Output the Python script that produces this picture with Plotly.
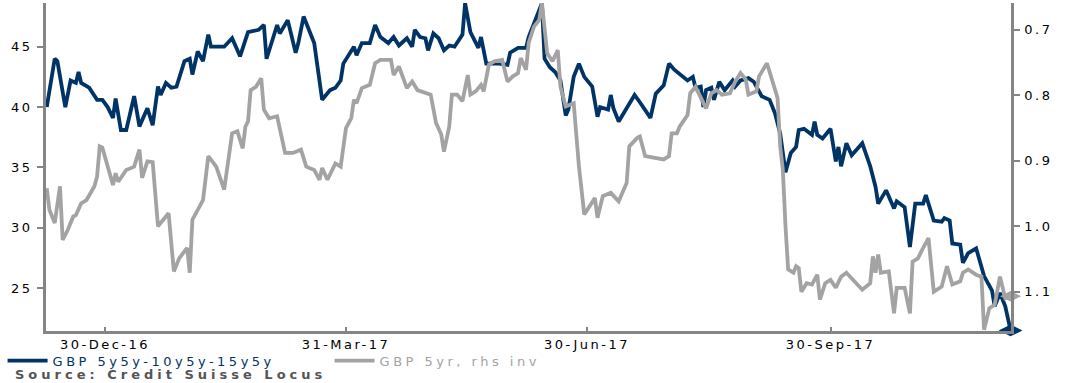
import plotly.graph_objects as go

# ---------------- data ----------------
blue_dates = [
    "2016-12-08", "2016-12-11", "2016-12-12", "2016-12-15", "2016-12-17", "2016-12-19", "2016-12-20", "2016-12-21",
    "2016-12-24", "2016-12-27", "2016-12-29", "2016-12-31",
    "2017-01-02", "2017-01-03", "2017-01-05", "2017-01-07", "2017-01-10", "2017-01-12", "2017-01-15", "2017-01-17",
    "2017-01-19", "2017-01-20", "2017-01-22", "2017-01-24", "2017-01-26", "2017-01-29", "2017-01-31",
    "2017-02-01", "2017-02-03", "2017-02-05", "2017-02-07", "2017-02-08", "2017-02-13", "2017-02-16", "2017-02-19",
    "2017-02-22", "2017-02-26", "2017-02-28",
    "2017-03-01", "2017-03-05", "2017-03-06", "2017-03-09", "2017-03-12", "2017-03-13", "2017-03-15", "2017-03-19",
    "2017-03-22", "2017-03-25", "2017-03-27", "2017-03-29", "2017-03-30",
    "2017-04-03", "2017-04-04", "2017-04-06", "2017-04-09", "2017-04-11", "2017-04-13", "2017-04-16", "2017-04-18",
    "2017-04-20", "2017-04-23", "2017-04-25", "2017-04-26", "2017-04-28", "2017-04-30",
    "2017-05-01", "2017-05-03", "2017-05-05", "2017-05-07", "2017-05-09", "2017-05-11", "2017-05-14", "2017-05-15",
    "2017-05-17", "2017-05-20", "2017-05-21", "2017-05-23", "2017-05-24", "2017-05-28", "2017-05-31",
    "2017-06-01", "2017-06-04", "2017-06-07", "2017-06-08", "2017-06-11", "2017-06-13", "2017-06-14", "2017-06-16",
    "2017-06-18", "2017-06-20", "2017-06-22", "2017-06-23", "2017-06-25", "2017-06-27", "2017-06-29",
    "2017-07-02", "2017-07-04", "2017-07-05", "2017-07-08", "2017-07-09", "2017-07-10", "2017-07-12", "2017-07-15",
    "2017-07-18", "2017-07-20", "2017-07-22", "2017-07-24", "2017-07-26", "2017-07-29", "2017-07-31",
    "2017-08-02", "2017-08-07", "2017-08-09", "2017-08-10", "2017-08-12", "2017-08-13", "2017-08-14", "2017-08-16",
    "2017-08-17", "2017-08-19", "2017-08-21", "2017-08-24", "2017-08-25", "2017-08-27", "2017-08-30",
    "2017-09-01", "2017-09-04", "2017-09-07", "2017-09-09", "2017-09-11", "2017-09-13", "2017-09-15", "2017-09-17",
    "2017-09-18", "2017-09-20", "2017-09-23", "2017-09-24", "2017-09-25", "2017-09-27", "2017-09-30",
    "2017-10-02", "2017-10-03", "2017-10-04", "2017-10-06", "2017-10-08", "2017-10-12", "2017-10-15", "2017-10-17",
    "2017-10-18", "2017-10-21", "2017-10-24", "2017-10-25", "2017-10-28", "2017-10-30",
    "2017-11-01", "2017-11-04", "2017-11-05", "2017-11-08", "2017-11-11", "2017-11-12", "2017-11-14", "2017-11-15",
    "2017-11-18", "2017-11-19", "2017-11-21", "2017-11-24", "2017-11-27", "2017-11-30",
    "2017-12-01", "2017-12-03", "2017-12-05", "2017-12-07",
]
blue_values = [
    40.0, 44.0, 43.8, 40.0, 42.2, 42.0, 42.9, 42.0, 41.6, 40.6, 40.6, 40.0,
    39.1, 40.7, 38.1, 38.1, 40.9, 38.4, 39.9, 38.5, 41.7, 41.0, 42.0, 41.6, 41.7, 43.8, 44.0,
    42.7, 44.6, 43.8, 46.0, 45.0, 45.0, 45.7, 44.2, 46.2, 46.4, 46.8,
    44.0, 46.8, 46.1, 47.2, 44.5, 45.3, 47.5, 45.3, 40.6, 41.4, 41.6, 42.2, 43.6,
    45.0, 44.3, 45.3, 45.3, 46.8, 45.8, 45.3, 45.8, 45.1, 45.7, 45.0, 46.4, 45.8, 45.7,
    44.7, 46.1, 45.7, 44.7, 45.1, 45.0, 46.0, 48.6, 46.2, 44.9, 45.8, 43.6, 43.6, 43.6, 43.5,
    44.5, 44.9, 44.9, 45.8, 47.5, 48.6, 44.0, 43.3, 42.9, 42.2, 39.3, 39.8, 42.5, 43.6, 42.5,
    41.7, 39.2, 40.0, 39.8, 41.0, 39.9, 38.8, 39.9, 41.0, 40.4, 39.8, 39.1, 41.1, 41.8, 43.6,
    43.1, 42.2, 42.5, 41.6, 41.7, 40.0, 41.4, 41.6, 40.6, 42.1, 41.4, 42.2, 41.7, 42.2, 42.4,
    42.1, 40.9, 40.6, 39.5, 37.8, 34.6, 36.2, 36.7, 38.1, 38.2, 37.7, 38.8, 37.7, 37.4, 38.2,
    35.5, 36.7, 35.1, 37.0, 36.0, 37.0, 35.1, 33.4, 32.0, 33.1, 31.6, 32.2, 31.7, 28.4,
    32.0, 32.0, 32.7, 30.6, 30.5, 30.8, 30.6, 28.7, 28.6, 27.1, 27.9, 28.3, 26.0, 24.8,
    23.5, 24.6, 23.5, 21.5,
]

gray_dates = [
    "2016-12-08", "2016-12-09", "2016-12-11", "2016-12-13", "2016-12-14", "2016-12-16", "2016-12-18", "2016-12-19",
    "2016-12-21", "2016-12-23", "2016-12-26", "2016-12-27", "2016-12-28", "2016-12-29",
    "2017-01-02", "2017-01-03", "2017-01-04", "2017-01-07", "2017-01-10", "2017-01-12", "2017-01-13", "2017-01-15",
    "2017-01-17", "2017-01-18", "2017-01-19", "2017-01-21", "2017-01-23", "2017-01-25", "2017-01-27", "2017-01-30",
    "2017-01-31",
    "2017-02-01", "2017-02-03", "2017-02-05", "2017-02-07", "2017-02-10", "2017-02-13", "2017-02-16", "2017-02-18",
    "2017-02-20", "2017-02-21", "2017-02-22", "2017-02-23", "2017-02-25", "2017-02-27", "2017-02-28",
    "2017-03-02", "2017-03-05", "2017-03-08", "2017-03-11", "2017-03-14", "2017-03-16", "2017-03-19", "2017-03-21",
    "2017-03-22", "2017-03-24", "2017-03-27", "2017-03-29", "2017-03-31",
    "2017-04-02", "2017-04-03", "2017-04-04", "2017-04-06", "2017-04-09", "2017-04-11", "2017-04-13", "2017-04-17",
    "2017-04-18", "2017-04-20", "2017-04-23", "2017-04-25", "2017-04-27",
    "2017-05-02", "2017-05-04", "2017-05-06", "2017-05-07", "2017-05-09", "2017-05-10", "2017-05-12", "2017-05-14",
    "2017-05-16", "2017-05-17", "2017-05-19", "2017-05-21", "2017-05-22", "2017-05-24", "2017-05-26", "2017-05-29",
    "2017-05-31",
    "2017-06-02", "2017-06-04", "2017-06-05", "2017-06-07", "2017-06-08", "2017-06-10", "2017-06-12", "2017-06-13",
    "2017-06-14", "2017-06-15", "2017-06-17", "2017-06-19", "2017-06-20", "2017-06-22", "2017-06-25", "2017-06-27",
    "2017-06-29",
    "2017-07-01", "2017-07-03", "2017-07-04", "2017-07-06", "2017-07-09", "2017-07-12", "2017-07-15", "2017-07-16",
    "2017-07-19", "2017-07-20", "2017-07-22", "2017-07-26", "2017-07-29", "2017-07-31",
    "2017-08-01", "2017-08-03", "2017-08-04", "2017-08-07", "2017-08-08", "2017-08-10", "2017-08-12", "2017-08-14",
    "2017-08-16", "2017-08-18", "2017-08-20", "2017-08-23", "2017-08-25", "2017-08-27", "2017-08-29", "2017-08-30",
    "2017-09-02", "2017-09-03", "2017-09-06", "2017-09-08", "2017-09-10", "2017-09-11", "2017-09-12", "2017-09-13",
    "2017-09-14", "2017-09-16", "2017-09-17", "2017-09-18", "2017-09-19", "2017-09-21", "2017-09-23", "2017-09-25",
    "2017-09-26", "2017-09-28", "2017-09-30",
    "2017-10-02", "2017-10-04", "2017-10-06", "2017-10-09", "2017-10-12", "2017-10-15", "2017-10-16", "2017-10-17",
    "2017-10-18", "2017-10-19", "2017-10-22", "2017-10-24", "2017-10-25", "2017-10-28", "2017-10-30", "2017-10-31",
    "2017-11-02", "2017-11-04", "2017-11-06", "2017-11-08", "2017-11-11", "2017-11-13", "2017-11-15", "2017-11-18",
    "2017-11-19", "2017-11-21", "2017-11-24", "2017-11-26", "2017-11-27", "2017-11-29",
    "2017-12-01", "2017-12-03", "2017-12-05", "2017-12-07",
]
gray_values = [
    0.942, 0.975, 0.995, 0.939, 1.021, 1.005, 0.985, 0.983, 0.965, 0.960, 0.939, 0.924, 0.878, 0.880,
    0.937, 0.919, 0.932, 0.914, 0.909, 0.883, 0.926, 0.901, 0.902, 0.949, 1.000, 0.990, 0.980, 1.069, 1.049, 1.033,
    1.071,
    0.990, 0.975, 0.960, 0.893, 0.909, 0.944, 0.858, 0.855, 0.881, 0.848, 0.840, 0.792, 0.787, 0.774, 0.822,
    0.835, 0.832, 0.888, 0.888, 0.883, 0.909, 0.914, 0.929, 0.911, 0.929, 0.904, 0.909, 0.850,
    0.835, 0.807, 0.812, 0.789, 0.784, 0.751, 0.746, 0.746, 0.769, 0.756, 0.789, 0.779, 0.792,
    0.799, 0.842, 0.860, 0.886, 0.848, 0.799, 0.799, 0.809, 0.769, 0.799, 0.794, 0.784, 0.794, 0.753, 0.748, 0.746,
    0.779,
    0.771, 0.766, 0.743, 0.761, 0.720, 0.695, 0.685, 0.659, 0.705, 0.736, 0.748, 0.731, 0.787, 0.817, 0.812, 0.909,
    0.982,
    0.970, 0.957, 0.987, 0.954, 0.949, 0.962, 0.934, 0.878, 0.865, 0.863, 0.893, 0.896, 0.898, 0.893,
    0.858, 0.858, 0.848, 0.830, 0.797, 0.787, 0.802, 0.820, 0.797, 0.792, 0.799, 0.797, 0.779, 0.766, 0.776, 0.799,
    0.794, 0.771, 0.751, 0.776, 0.804, 0.878, 0.914, 1.000, 1.066, 1.071, 1.061, 1.064, 1.100, 1.087, 1.089, 1.074,
    1.112, 1.087, 1.082,
    1.094, 1.077, 1.071, 1.084, 1.097, 1.087, 1.046, 1.071, 1.043, 1.071, 1.069, 1.133, 1.094, 1.094, 1.133, 1.054,
    1.049, 1.033, 1.018, 1.100, 1.092, 1.061, 1.089, 1.084, 1.071, 1.066, 1.074, 1.077, 1.158, 1.125,
    1.120, 1.077, 1.110, 1.107,
]

x_tick_dates = ["2016-12-30", "2017-03-31", "2017-06-30", "2017-09-30"]
x_tick_labels = ["30-Dec-16", "31-Mar-17", "30-Jun-17", "30-Sep-17"]
left_ticks = [25, 30, 35, 40, 45]
left_tick_labels = ["25", "30", "35", "40", "45"]
right_ticks = [0.7, 0.8, 0.9, 1.0, 1.1]
right_tick_labels = ["0.7", "0.8", "0.9", "1.0", "1.1"]

blue_name = "GBP 5y5y-10y5y-15y5y"
gray_name = "GBP 5yr, rhs inv"
source_text = "Source: Credit Suisse Locus"

# ---------------- styles ----------------
BLUE = "#003366"
GRAY = "#A3A3A3"
AXIS = "#858585"
FONT = "DejaVu Sans"


def wide(text, spacing=2.5, color=None):
    style = "letter-spacing:%spx" % spacing
    if color is not None:
        style += ";color:%s" % color
    return "<span style='%s'>%s</span>" % (style, text)


fig = go.Figure()
fig.add_trace(go.Scatter(
    x=blue_dates, y=blue_values, mode="lines", yaxis="y",
    name=wide(blue_name, 3.5, BLUE),
    line=dict(color=BLUE, width=3.8),
))
fig.add_trace(go.Scatter(
    x=gray_dates, y=gray_values, mode="lines", yaxis="y2",
    name=wide(gray_name, 3.5, GRAY),
    line=dict(color=GRAY, width=3.8),
))
# end-of-series markers (last data point of each series)
fig.add_trace(go.Scatter(
    x=[gray_dates[-1]], y=[gray_values[-1]], mode="markers", yaxis="y2",
    marker=dict(symbol="diamond-wide", color=GRAY, size=15),
    showlegend=False, cliponaxis=False, hoverinfo="skip",
))
fig.add_trace(go.Scatter(
    x=[blue_dates[-1]], y=[blue_values[-1]], mode="markers", yaxis="y",
    marker=dict(symbol="diamond-wide", color=BLUE, size=17),
    showlegend=False, cliponaxis=False, hoverinfo="skip",
))

tick_font = dict(family=FONT, size=13, color="black")

fig.update_layout(
    width=1071, height=383,
    margin=dict(l=46, r=60, t=3, b=52),
    paper_bgcolor="white", plot_bgcolor="white",
    font=dict(family=FONT, size=13, color="black"),
    showlegend=True,
    legend=dict(
        orientation="h", x=-0.045, xanchor="left", y=-0.045, yanchor="top",
        font=dict(family=FONT, size=13),
        entrywidth=272, entrywidthmode="pixels", itemwidth=40,
        bgcolor="rgba(0,0,0,0)", tracegroupgap=0,
    ),
    xaxis=dict(
        type="date", range=["2016-12-07 17:00", "2017-12-07 04:00"],
        showline=True, linecolor=AXIS, linewidth=2.5,
        ticks="inside", ticklen=4, tickwidth=2, tickcolor=AXIS,
        tickvals=x_tick_dates, ticktext=[wide(t) for t in x_tick_labels],
        showgrid=False, zeroline=False, tickfont=tick_font,
    ),
    yaxis=dict(
        range=[21.45, 48.62],
        showline=True, linecolor=AXIS, linewidth=2.5,
        ticks="outside", ticklen=6, tickwidth=1.5, tickcolor=AXIS,
        tickvals=left_ticks, ticktext=[wide(t) for t in left_tick_labels],
        showgrid=False, zeroline=False,
        ticklabelstandoff=2, tickfont=tick_font,
    ),
    yaxis2=dict(
        overlaying="y", side="right", anchor="x",
        range=[1.16, 0.659],
        showline=True, linecolor=AXIS, linewidth=2.5,
        ticks="outside", ticklen=6, tickwidth=1.5, tickcolor=AXIS,
        tickvals=right_ticks, ticktext=[wide(t) for t in right_tick_labels],
        showgrid=False, zeroline=False,
        ticklabelstandoff=2, tickfont=tick_font,
    ),
    annotations=[dict(
        text="<b>%s</b>" % wide(source_text, 4), xref="paper", yref="paper",
        x=-0.034, y=-0.132, xanchor="left", yanchor="middle", showarrow=False,
        font=dict(family=FONT, size=13, color="#555555"),
    )],
)

fig.write_html("out.html")
